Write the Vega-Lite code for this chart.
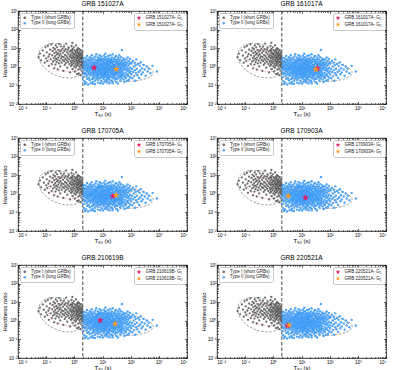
{
"$schema": "https://vega.github.io/schema/vega-lite/v6.json",
"padding": {"left": 1, "top": 0, "right": 0, "bottom": 0},
"background": "white",
"columns": 2,
"spacing": {"row": 10, "column": 12},
"config": {
 "font": "Liberation Sans",
 "view": {"stroke": "#000", "strokeWidth": 0.8},
 "axis": {"grid": false, "domain": false, "labelFontSize": 4.5, "labelColor": "#000", "tickColor": "#000", "tickWidth": 0.6, "labelPadding": 1, "titleFontSize": 6, "titleFontWeight": "normal", "titleColor": "#000", "titlePadding": 0.5, "labelFont": "Liberation Sans", "titleFont": "Liberation Sans"},
 "title": {"fontSize": 6.5, "fontWeight": "normal", "offset": 1, "color": "#000", "font": "Liberation Sans"},
 "legend": {"labelFontSize": 4.5, "labelFont": "Liberation Sans", "labelColor": "#222", "rowPadding": 0.5, "padding": 2.5, "strokeColor": "#c8c8c8", "cornerRadius": 1.5, "fillColor": "white", "offset": 1.5, "labelOffset": 4}
},
"datasets": {
"short": [
{"t":-1.27,"h":0.52},{"t":-1.22,"h":0.71},{"t":-1.18,"h":0.35},{"t":-1.12,"h":0.88},{"t":-1.08,"h":0.60},{"t":-1.05,"h":0.22},{"t":-1.02,"h":1.05},{"t":-1.00,"h":0.45},
{"t":-0.98,"h":0.78},{"t":-0.96,"h":0.31},{"t":-0.94,"h":1.12},{"t":-0.92,"h":0.55},{"t":-0.90,"h":0.05},{"t":-0.88,"h":0.68},{"t":-0.86,"h":0.92},{"t":-0.84,"h":0.40},{"t":-0.82,"h":1.20},{"t":-0.80,"h":0.15},{"t":-0.79,"h":0.62},{"t":-0.77,"h":0.85},{"t":-0.76,"h":0.28},{"t":-0.74,"h":1.02},{"t":-0.73,"h":0.48},{"t":-0.72,"h":-0.08},{"t":-0.71,"h":0.73},{"t":-0.70,"h":0.35},
{"t":-0.69,"h":0.95},{"t":-0.68,"h":0.58},{"t":-0.67,"h":0.12},{"t":-0.66,"h":1.15},{"t":-0.65,"h":0.44},{"t":-0.64,"h":0.80},{"t":-0.63,"h":0.25},{"t":-0.62,"h":0.66},{"t":-0.61,"h":1.05},{"t":-0.60,"h":0.38},{"t":-0.59,"h":-0.15},{"t":-0.58,"h":0.72},{"t":-0.57,"h":0.50},{"t":-0.56,"h":0.90},{"t":-0.55,"h":0.18},{"t":-0.54,"h":1.22},{"t":-0.53,"h":0.60},{"t":-0.52,"h":0.33},{"t":-0.51,"h":0.82},{"t":-0.50,"h":0.02},{"t":-0.49,"h":0.68},{"t":-0.48,"h":1.10},{"t":-0.47,"h":0.45},{"t":-0.46,"h":0.88},{"t":-0.45,"h":0.22},{"t":-0.44,"h":0.56},{"t":-0.42,"h":0.98},{"t":-0.41,"h":0.36},
{"t":-0.40,"h":0.75},{"t":-0.39,"h":-0.22},{"t":-0.38,"h":0.52},{"t":-0.37,"h":1.08},{"t":-0.36,"h":0.30},{"t":-0.35,"h":0.85},{"t":-0.34,"h":0.10},{"t":-0.33,"h":0.64},{"t":-0.32,"h":0.42},{"t":-0.31,"h":0.95},{"t":-0.30,"h":0.20},{"t":-0.29,"h":1.25},{"t":-0.28,"h":0.58},{"t":-0.27,"h":0.35},{"t":-0.26,"h":0.78},{"t":-0.25,"h":-0.05},{"t":-0.24,"h":0.48},{"t":-0.23,"h":0.92},{"t":-0.22,"h":0.26},{"t":-0.21,"h":0.68},{"t":-0.20,"h":1.02},{"t":-0.19,"h":0.40},{"t":-0.18,"h":0.15},{"t":-0.17,"h":0.82},{"t":-0.16,"h":0.55},{"t":-0.15,"h":-0.30},{"t":-0.14,"h":0.62},{"t":-0.13,"h":0.32},{"t":-0.12,"h":0.88},{"t":-0.12,"h":0.05},{"t":-0.11,"h":0.50},{"t":-0.10,"h":1.12},{"t":-0.10,"h":0.72},{"t":-0.11,"h":0.22},
{"t":-0.09,"h":0.44},{"t":-0.08,"h":0.85},{"t":-0.08,"h":0.12},{"t":-0.07,"h":0.60},{"t":-0.06,"h":0.30},{"t":-0.06,"h":0.95},{"t":-0.05,"h":-0.12},{"t":-0.04,"h":0.52},{"t":-0.04,"h":0.75},{"t":-0.03,"h":0.20},{"t":-0.02,"h":1.05},{"t":-0.02,"h":0.38},{"t":-0.01,"h":0.65},{"t":0.00,"h":0.02},{"t":0.00,"h":0.48},{"t":0.01,"h":0.88},{"t":0.02,"h":0.28},{"t":0.02,"h":0.70},{"t":0.03,"h":-0.25},{"t":0.04,"h":0.55},{"t":0.04,"h":0.15},{"t":0.05,"h":0.80},{"t":0.06,"h":0.40},{"t":0.06,"h":1.15},{"t":0.07,"h":0.62},{"t":0.08,"h":0.05},{"t":0.08,"h":0.32},{"t":0.09,"h":0.92},{"t":0.09,"h":0.50},{"t":0.10,"h":-0.40},{"t":0.10,"h":0.72},{"t":0.10,"h":0.22},{"t":-0.07,"h":1.28},{"t":0.05,"h":-0.05},
{"t":0.11,"h":0.45},{"t":0.11,"h":0.85},{"t":0.12,"h":0.10},{"t":0.12,"h":0.60},{"t":0.13,"h":0.30},{"t":0.13,"h":1.00},{"t":0.14,"h":-0.15},{"t":0.14,"h":0.52},{"t":0.15,"h":0.75},{"t":0.15,"h":0.18},{"t":0.16,"h":0.40},{"t":0.16,"h":-0.35},{"t":0.17,"h":0.65},{"t":0.17,"h":0.95},{"t":0.18,"h":0.02},{"t":0.18,"h":0.35},{"t":0.19,"h":0.58},{"t":0.19,"h":0.82},{"t":0.20,"h":-0.10},{"t":0.20,"h":0.25},{"t":0.21,"h":0.48},{"t":0.21,"h":0.70},{"t":0.22,"h":-0.45},{"t":0.22,"h":0.12},{"t":0.23,"h":0.42},{"t":0.23,"h":0.90},{"t":0.24,"h":0.28},{"t":0.24,"h":0.62},{"t":0.25,"h":-0.20},{"t":0.25,"h":0.05},{"t":0.26,"h":0.52},{"t":0.26,"h":0.78},{"t":0.27,"h":0.15},{"t":0.27,"h":0.38},{"t":0.28,"h":-0.05},{"t":0.28,"h":0.68},{"t":0.29,"h":0.22},{"t":0.29,"h":0.45},{"t":0.30,"h":-0.30},{"t":0.30,"h":0.10}
],
"long": [
{"t":0.31,"h":-0.12},{"t":0.31,"h":0.35},{"t":0.32,"h":-0.55},{"t":0.33,"h":0.10},{"t":0.33,"h":-0.30},{"t":0.34,"h":0.48},{"t":0.35,"h":-0.05},{"t":0.35,"h":-0.78},{"t":0.36,"h":0.22},{"t":0.37,"h":-0.40},{"t":0.37,"h":0.02},{"t":0.38,"h":-0.92},{"t":0.39,"h":0.30},{"t":0.39,"h":-0.18},
{"t":0.40,"h":0.12},{"t":0.41,"h":-0.35},{"t":0.41,"h":0.45},{"t":0.42,"h":-0.84},{"t":0.42,"h":-0.08},{"t":0.43,"h":0.25},{"t":0.44,"h":-0.50},{"t":0.44,"h":0.05},{"t":0.45,"h":-0.22},{"t":0.45,"h":0.58},{"t":0.46,"h":-0.65},{"t":0.47,"h":0.15},{"t":0.47,"h":-0.12},{"t":0.48,"h":0.38},{"t":0.48,"h":-0.42},{"t":0.49,"h":-0.02},{"t":0.49,"h":-0.95},{"t":0.50,"h":0.28},
{"t":0.50,"h":-0.28},{"t":0.51,"h":0.08},{"t":0.51,"h":-0.60},{"t":0.52,"h":0.40},{"t":0.52,"h":-0.15},{"t":0.53,"h":-0.38},{"t":0.54,"h":0.20},{"t":0.54,"h":-0.05},{"t":0.55,"h":-0.72},{"t":0.55,"h":0.52},{"t":0.56,"h":-0.20},{"t":0.56,"h":0.02},{"t":0.57,"h":-0.48},{"t":0.57,"h":0.30},{"t":0.58,"h":-0.10},{"t":0.58,"h":-0.88},{"t":0.59,"h":0.12},{"t":0.59,"h":-0.32},{"t":0.60,"h":0.45},{"t":0.60,"h":-0.02},
{"t":0.61,"h":-0.42},{"t":0.61,"h":0.18},{"t":0.62,"h":-0.12},{"t":0.62,"h":0.62},{"t":0.63,"h":-0.65},{"t":0.63,"h":0.05},{"t":0.64,"h":-0.25},{"t":0.64,"h":0.35},{"t":0.65,"h":-0.80},{"t":0.65,"h":-0.05},{"t":0.66,"h":0.25},{"t":0.66,"h":-0.35},{"t":0.67,"h":0.10},{"t":0.67,"h":-0.55},{"t":0.68,"h":0.48},{"t":0.68,"h":-0.18},{"t":0.69,"h":-0.02},{"t":0.69,"h":-0.45},{"t":0.70,"h":0.20},{"t":0.70,"h":-0.28},{"t":0.62,"h":0.00},{"t":0.66,"h":-0.90},
{"t":0.71,"h":0.08},{"t":0.71,"h":-0.60},{"t":0.72,"h":0.40},{"t":0.72,"h":-0.15},{"t":0.73,"h":-0.35},{"t":0.73,"h":0.22},{"t":0.74,"h":-0.05},{"t":0.74,"h":-0.75},{"t":0.75,"h":0.55},{"t":0.75,"h":-0.22},{"t":0.76,"h":0.12},{"t":0.76,"h":-0.48},{"t":0.77,"h":-0.10},{"t":0.77,"h":0.30},{"t":0.78,"h":-0.30},{"t":0.78,"h":0.68},{"t":0.79,"h":-0.02},{"t":0.79,"h":-0.62},{"t":0.80,"h":0.18},{"t":0.80,"h":-0.40},{"t":0.73,"h":-0.92},{"t":0.76,"h":0.00},{"t":0.78,"h":0.05},{"t":0.74,"h":-0.18},
{"t":0.81,"h":-0.25},{"t":0.81,"h":0.35},{"t":0.82,"h":-0.08},{"t":0.82,"h":-0.52},{"t":0.83,"h":0.15},{"t":0.83,"h":-0.35},{"t":0.84,"h":0.50},{"t":0.84,"h":-0.15},{"t":0.85,"h":-0.70},{"t":0.85,"h":0.05},{"t":0.86,"h":0.28},{"t":0.86,"h":-0.42},{"t":0.87,"h":-0.02},{"t":0.87,"h":0.42},{"t":0.88,"h":-0.20},{"t":0.88,"h":-0.58},{"t":0.89,"h":0.10},{"t":0.89,"h":-0.30},{"t":0.90,"h":0.62},{"t":0.90,"h":-0.10},{"t":0.82,"h":0.22},{"t":0.84,"h":-0.85},{"t":0.86,"h":-0.22},{"t":0.88,"h":0.32},{"t":0.85,"h":-0.45},{"t":0.87,"h":-0.12},
{"t":0.91,"h":-0.38},{"t":0.91,"h":0.18},{"t":0.92,"h":-0.05},{"t":0.92,"h":0.45},{"t":0.93,"h":-0.62},{"t":0.93,"h":-0.18},{"t":0.94,"h":0.30},{"t":0.94,"h":-0.28},{"t":0.95,"h":0.08},{"t":0.95,"h":-0.48},{"t":0.96,"h":0.55},{"t":0.96,"h":-0.12},{"t":0.97,"h":-0.78},{"t":0.97,"h":0.15},{"t":0.98,"h":-0.35},{"t":0.98,"h":0.38},{"t":0.99,"h":-0.02},{"t":0.99,"h":-0.55},{"t":1.00,"h":0.22},{"t":1.00,"h":-0.22},{"t":0.92,"h":-0.88},{"t":0.94,"h":0.02},{"t":0.96,"h":-0.40},{"t":0.98,"h":0.10},{"t":0.93,"h":0.40},{"t":0.97,"h":-0.25},
{"t":1.01,"h":-0.10},{"t":1.01,"h":0.42},{"t":1.02,"h":-0.45},{"t":1.02,"h":0.05},{"t":1.03,"h":-0.25},{"t":1.03,"h":0.28},{"t":1.04,"h":-0.65},{"t":1.04,"h":-0.02},{"t":1.05,"h":0.60},{"t":1.05,"h":-0.32},{"t":1.06,"h":0.12},{"t":1.06,"h":-0.15},{"t":1.07,"h":-0.52},{"t":1.07,"h":0.35},{"t":1.08,"h":-0.05},{"t":1.08,"h":-0.80},{"t":1.09,"h":0.20},{"t":1.09,"h":-0.38},{"t":1.10,"h":0.70},{"t":1.10,"h":-0.20},{"t":1.02,"h":-0.90},{"t":1.04,"h":0.18},{"t":1.06,"h":-0.58},{"t":1.08,"h":0.48},{"t":1.03,"h":-0.12},{"t":1.05,"h":-0.40},{"t":1.07,"h":0.02},{"t":1.09,"h":-0.28},
{"t":1.11,"h":0.15},{"t":1.11,"h":-0.48},{"t":1.12,"h":-0.08},{"t":1.12,"h":0.52},{"t":1.13,"h":-0.30},{"t":1.13,"h":-0.70},{"t":1.14,"h":0.25},{"t":1.14,"h":-0.15},{"t":1.15,"h":0.02},{"t":1.15,"h":-0.55},{"t":1.16,"h":0.40},{"t":1.16,"h":-0.22},{"t":1.17,"h":-0.02},{"t":1.17,"h":-0.85},{"t":1.18,"h":0.30},{"t":1.18,"h":-0.35},{"t":1.19,"h":0.10},{"t":1.19,"h":-0.62},{"t":1.20,"h":-0.12},{"t":1.20,"h":0.58},{"t":1.12,"h":-0.40},{"t":1.14,"h":0.08},{"t":1.16,"h":-0.75},{"t":1.18,"h":-0.05},{"t":1.13,"h":0.35},{"t":1.15,"h":-0.25},{"t":1.17,"h":0.18},{"t":1.19,"h":-0.45},
{"t":1.21,"h":-0.30},{"t":1.21,"h":0.22},{"t":1.22,"h":-0.05},{"t":1.22,"h":-0.65},{"t":1.23,"h":0.45},{"t":1.23,"h":-0.18},{"t":1.24,"h":-0.42},{"t":1.24,"h":0.10},{"t":1.25,"h":-0.88},{"t":1.25,"h":0.32},{"t":1.26,"h":-0.10},{"t":1.26,"h":-0.52},{"t":1.27,"h":0.62},{"t":1.27,"h":0.02},{"t":1.28,"h":-0.28},{"t":1.28,"h":0.18},{"t":1.29,"h":-0.72},{"t":1.29,"h":-0.02},{"t":1.30,"h":0.40},{"t":1.30,"h":-0.35},{"t":1.22,"h":0.28},{"t":1.24,"h":-0.22},{"t":1.26,"h":0.05},{"t":1.28,"h":-0.48},{"t":1.23,"h":-0.58},{"t":1.25,"h":0.12},{"t":1.27,"h":-0.15},{"t":1.29,"h":0.25},
{"t":1.31,"h":-0.15},{"t":1.31,"h":0.35},{"t":1.32,"h":-0.55},{"t":1.32,"h":0.05},{"t":1.33,"h":-0.25},{"t":1.33,"h":0.50},{"t":1.34,"h":-0.78},{"t":1.34,"h":-0.05},{"t":1.35,"h":0.20},{"t":1.35,"h":-0.40},{"t":1.36,"h":0.68},{"t":1.36,"h":-0.12},{"t":1.37,"h":-0.62},{"t":1.37,"h":0.12},{"t":1.38,"h":-0.30},{"t":1.38,"h":0.30},{"t":1.39,"h":-0.02},{"t":1.39,"h":-0.48},{"t":1.40,"h":0.42},{"t":1.40,"h":-0.20},{"t":1.32,"h":-0.35},{"t":1.34,"h":0.25},{"t":1.36,"h":-0.88},{"t":1.38,"h":-0.08},{"t":1.33,"h":0.00},{"t":1.37,"h":-0.18},
{"t":1.41,"h":0.10},{"t":1.41,"h":-0.52},{"t":1.42,"h":-0.18},{"t":1.42,"h":0.45},{"t":1.43,"h":-0.35},{"t":1.43,"h":0.02},{"t":1.44,"h":-0.70},{"t":1.44,"h":0.28},{"t":1.45,"h":-0.08},{"t":1.45,"h":-0.45},{"t":1.46,"h":0.55},{"t":1.46,"h":-0.22},{"t":1.47,"h":0.15},{"t":1.47,"h":-0.60},{"t":1.48,"h":-0.02},{"t":1.48,"h":0.35},{"t":1.49,"h":-0.30},{"t":1.49,"h":-0.82},{"t":1.50,"h":0.20},{"t":1.50,"h":-0.12},{"t":1.42,"h":-0.40},{"t":1.44,"h":0.08},{"t":1.46,"h":-0.28},{"t":1.48,"h":0.58},
{"t":1.51,"h":-0.38},{"t":1.51,"h":0.25},{"t":1.52,"h":-0.05},{"t":1.52,"h":-0.65},{"t":1.53,"h":0.40},{"t":1.53,"h":-0.20},{"t":1.54,"h":0.08},{"t":1.54,"h":-0.48},{"t":1.55,"h":-0.90},{"t":1.55,"h":0.18},{"t":1.56,"h":-0.12},{"t":1.56,"h":0.50},{"t":1.57,"h":-0.32},{"t":1.57,"h":-0.02},{"t":1.58,"h":0.30},{"t":1.58,"h":-0.58},{"t":1.59,"h":-0.22},{"t":1.59,"h":0.12},{"t":1.60,"h":-0.42},{"t":1.60,"h":0.62},{"t":1.53,"h":-0.30},{"t":1.57,"h":0.05},
{"t":1.61,"h":0.15},{"t":1.61,"h":-0.28},{"t":1.62,"h":-0.55},{"t":1.62,"h":0.40},{"t":1.63,"h":-0.08},{"t":1.63,"h":-0.72},{"t":1.64,"h":0.22},{"t":1.64,"h":-0.35},{"t":1.65,"h":0.02},{"t":1.65,"h":-0.15},{"t":1.66,"h":0.52},{"t":1.66,"h":-0.48},{"t":1.67,"h":-0.25},{"t":1.67,"h":0.10},{"t":1.68,"h":-0.62},{"t":1.68,"h":0.30},{"t":1.69,"h":0.90},{"t":1.69,"h":-0.05},{"t":1.70,"h":-0.40},{"t":1.70,"h":0.18},
{"t":1.71,"h":-0.20},{"t":1.71,"h":0.32},{"t":1.72,"h":-0.50},{"t":1.73,"h":0.08},{"t":1.73,"h":-0.30},{"t":1.74,"h":0.45},{"t":1.75,"h":-0.68},{"t":1.75,"h":-0.10},{"t":1.76,"h":0.20},{"t":1.77,"h":-0.42},{"t":1.77,"h":0.02},{"t":1.78,"h":-0.82},{"t":1.78,"h":0.38},{"t":1.79,"h":-0.15},{"t":1.80,"h":-0.55},{"t":1.80,"h":0.12},
{"t":1.81,"h":0.25},{"t":1.82,"h":-0.32},{"t":1.82,"h":-0.02},{"t":1.83,"h":-0.60},{"t":1.84,"h":0.40},{"t":1.85,"h":-0.18},{"t":1.85,"h":0.10},{"t":1.86,"h":-0.45},{"t":1.87,"h":-0.75},{"t":1.87,"h":0.22},{"t":1.88,"h":-0.08},{"t":1.89,"h":-0.38},{"t":1.89,"h":0.50},{"t":1.90,"h":-0.22},
{"t":1.91,"h":0.05},{"t":1.92,"h":-0.48},{"t":1.93,"h":0.30},{"t":1.94,"h":-0.15},{"t":1.94,"h":-0.70},{"t":1.95,"h":0.15},{"t":1.96,"h":-0.32},{"t":1.97,"h":0.42},{"t":1.98,"h":-0.05},{"t":1.98,"h":-0.58},{"t":1.99,"h":0.20},{"t":2.00,"h":-0.25},
{"t":2.02,"h":-0.40},{"t":2.03,"h":0.18},{"t":2.05,"h":-0.12},{"t":2.06,"h":-0.62},{"t":2.08,"h":0.32},{"t":2.09,"h":-0.28},{"t":2.11,"h":0.02},{"t":2.12,"h":-0.50},{"t":2.14,"h":0.22},{"t":2.15,"h":-0.18},{"t":2.16,"h":-0.75},{"t":2.18,"h":0.10},{"t":2.19,"h":-0.35},{"t":2.20,"h":0.40},
{"t":2.22,"h":-0.10},{"t":2.24,"h":-0.45},{"t":2.26,"h":0.15},{"t":2.28,"h":-0.28},{"t":2.30,"h":-0.60},{"t":2.32,"h":0.05},{"t":2.34,"h":-0.20},{"t":2.36,"h":0.25},{"t":2.38,"h":-0.40},{"t":2.40,"h":-0.08},
{"t":2.43,"h":-0.30},{"t":2.46,"h":0.10},{"t":2.50,"h":-0.15},{"t":2.53,"h":-0.48},{"t":2.57,"h":0.02},{"t":2.60,"h":-0.25},
{"t":2.64,"h":-0.10},{"t":2.70,"h":-0.35},{"t":2.78,"h":0.05},{"t":2.93,"h":-0.25}
],
"ell": [
{"e":"so","k":"outer","i":0,"t":0.37,"h":0.05},{"e":"so","k":"outer","i":1,"t":0.26,"h":0.53},{"e":"so","k":"outer","i":2,"t":-0.04,"h":0.96},{"e":"so","k":"outer","i":3,"t":-0.45,"h":1.22},{"e":"so","k":"outer","i":4,"t":-0.86,"h":1.24},{"e":"so","k":"outer","i":5,"t":-1.16,"h":1.02},{"e":"so","k":"outer","i":6,"t":-1.27,"h":0.61},{"e":"so","k":"outer","i":7,"t":-1.16,"h":0.13},{"e":"so","k":"outer","i":8,"t":-0.86,"h":-0.30},{"e":"so","k":"outer","i":9,"t":-0.45,"h":-0.56},{"e":"so","k":"outer","i":10,"t":-0.04,"h":-0.58},{"e":"so","k":"outer","i":11,"t":0.26,"h":-0.36},
{"e":"si","k":"inner","i":0,"t":0.27,"h":0.15},{"e":"si","k":"inner","i":1,"t":0.19,"h":0.46},{"e":"si","k":"inner","i":2,"t":-0.03,"h":0.735},{"e":"si","k":"inner","i":3,"t":-0.33,"h":0.90},{"e":"si","k":"inner","i":4,"t":-0.63,"h":0.915},{"e":"si","k":"inner","i":5,"t":-0.85,"h":0.77},{"e":"si","k":"inner","i":6,"t":-0.93,"h":0.51},{"e":"si","k":"inner","i":7,"t":-0.85,"h":0.20},{"e":"si","k":"inner","i":8,"t":-0.63,"h":-0.075},{"e":"si","k":"inner","i":9,"t":-0.33,"h":-0.24},{"e":"si","k":"inner","i":10,"t":-0.03,"h":-0.255},{"e":"si","k":"inner","i":11,"t":0.19,"h":-0.11},
{"e":"lo","k":"outer","i":0,"t":2.80,"h":-0.31},{"e":"lo","k":"outer","i":1,"t":2.61,"h":0.00},{"e":"lo","k":"outer","i":2,"t":2.08,"h":0.27},{"e":"lo","k":"outer","i":3,"t":1.35,"h":0.41},{"e":"lo","k":"outer","i":4,"t":0.63,"h":0.39},{"e":"lo","k":"outer","i":5,"t":0.09,"h":0.21},{"e":"lo","k":"outer","i":6,"t":-0.10,"h":-0.07},{"e":"lo","k":"outer","i":7,"t":0.09,"h":-0.38},{"e":"lo","k":"outer","i":8,"t":0.63,"h":-0.65},{"e":"lo","k":"outer","i":9,"t":1.35,"h":-0.79},{"e":"lo","k":"outer","i":10,"t":2.08,"h":-0.77},{"e":"lo","k":"outer","i":11,"t":2.61,"h":-0.60},
{"e":"li","k":"inner","i":0,"t":2.30,"h":-0.25},{"e":"li","k":"inner","i":1,"t":2.17,"h":-0.04},{"e":"li","k":"inner","i":2,"t":1.80,"h":0.13},{"e":"li","k":"inner","i":3,"t":1.30,"h":0.22},{"e":"li","k":"inner","i":4,"t":0.80,"h":0.21},{"e":"li","k":"inner","i":5,"t":0.43,"h":0.10},{"e":"li","k":"inner","i":6,"t":0.30,"h":-0.09},{"e":"li","k":"inner","i":7,"t":0.43,"h":-0.30},{"e":"li","k":"inner","i":8,"t":0.80,"h":-0.47},{"e":"li","k":"inner","i":9,"t":1.30,"h":-0.56},{"e":"li","k":"inner","i":10,"t":1.80,"h":-0.55},{"e":"li","k":"inner","i":11,"t":2.17,"h":-0.44}
]
},
"resolve": {"scale": {"fill": "independent"}, "legend": {"color": "independent", "fill": "independent"}},
"concat": [
{"title": "GRB 151027A", "width": 169, "height": 93, "resolve": {"axis": {"x": "independent", "y": "independent"}},
 "layer": [
  {"data": {"name": "ell"}, "mark": {"type": "line", "interpolate": "cardinal-closed", "strokeWidth": 0.7},
   "encoding": {
    "x": {"field": "t", "type": "quantitative", "scale": {"domain": [-2, 4]}, "axis": {"orient": "top", "offset": -2.5, "tickSize": 2.5, "values": [-2,-1,0,1,2,3,4], "labels": false, "title": null}},
    "y": {"field": "h", "type": "quantitative", "scale": {"domain": [-2, 3]}, "axis": {"orient": "right", "offset": -2.5, "tickSize": 2.5, "values": [-2,-1,0,1,2,3], "labels": false, "title": null}},
    "detail": {"field": "e"}, "order": {"field": "i", "type": "quantitative"},
    "stroke": {"field": "k", "type": "nominal", "scale": {"domain": ["outer","inner"], "range": ["#7a7a7a", "#e88080"]}, "legend": null},
    "strokeDash": {"field": "k", "type": "nominal", "scale": {"domain": ["outer","inner"], "range": [[2.5,1.5],[1,1.2]]}, "legend": null}}},
  {"data": {"values": [{}]}, "mark": {"type": "rule", "strokeDash": [3.5,2], "color": "#333", "strokeWidth": 0.9}, "encoding": {"x": {"datum": 0.301, "type": "quantitative", "axis": {"orient": "top", "offset": -1.3, "tickSize": 1.3, "values": [-1.699,-1.523,-1.398,-1.301,-1.222,-1.155,-1.097,-1.046,-0.699,-0.523,-0.398,-0.301,-0.222,-0.155,-0.097,-0.046,0.301,0.477,0.602,0.699,0.778,0.845,0.903,0.954,1.301,1.477,1.602,1.699,1.778,1.845,1.903,1.954,2.301,2.477,2.602,2.699,2.778,2.845,2.903,2.954,3.301,3.477,3.602,3.699,3.778,3.845,3.903,3.954], "labels": false, "title": null}}}},
  {"data": {"name": "short"}, "mark": {"type": "circle", "size": 5, "opacity": 0.85},
   "encoding": {
    "x": {"field": "t", "type": "quantitative", "scale": {"domain": [-2, 4]}, "axis": {"orient": "bottom", "offset": -2.5, "tickSize": 2.5, "values": [-2,-1,0,1,2,3,4], "labelExpr": "datum.value == -2 ? '10⁻²' : datum.value == -1 ? '10⁻¹' : datum.value == 0 ? '10⁰' : datum.value == 1 ? '10¹' : datum.value == 2 ? '10²' : datum.value == 3 ? '10³' : '10⁴'", "title": "T₉₀ (s)"}},
    "y": {"field": "h", "type": "quantitative", "scale": {"domain": [-2, 3]}, "axis": {"orient": "left", "offset": -2.5, "tickSize": 2.5, "values": [-2,-1,0,1,2,3], "labelExpr": "datum.value == -2 ? '10⁻²' : datum.value == -1 ? '10⁻¹' : datum.value == 0 ? '10⁰' : datum.value == 1 ? '10¹' : datum.value == 2 ? '10²' : '10³'", "title": "Hardness ratio"}},
    "color": {"datum": "Type I (short GRBs)", "type": "nominal", "scale": {"domain": ["Type I (short GRBs)", "Type II (long GRBs)"], "range": ["#505050", "#3f9cf5"]}, "legend": {"orient": "top-left", "title": null, "symbolType": "circle", "symbolSize": 7, "symbolStrokeWidth": 0}}}},
  {"data": {"name": "long"}, "mark": {"type": "circle", "size": 6, "opacity": 0.9},
   "encoding": {
    "x": {"field": "t", "type": "quantitative", "scale": {"domain": [-2, 4]}, "axis": {"orient": "bottom", "offset": -1.3, "tickSize": 1.3, "values": [-1.699,-1.523,-1.398,-1.301,-1.222,-1.155,-1.097,-1.046,-0.699,-0.523,-0.398,-0.301,-0.222,-0.155,-0.097,-0.046,0.301,0.477,0.602,0.699,0.778,0.845,0.903,0.954,1.301,1.477,1.602,1.699,1.778,1.845,1.903,1.954,2.301,2.477,2.602,2.699,2.778,2.845,2.903,2.954,3.301,3.477,3.602,3.699,3.778,3.845,3.903,3.954], "labels": false, "title": null}},
    "y": {"field": "h", "type": "quantitative", "scale": {"domain": [-2, 3]}, "axis": {"orient": "left", "offset": -1.3, "tickSize": 1.3, "values": [-1.699,-1.523,-1.398,-1.301,-1.222,-1.155,-1.097,-1.046,-0.699,-0.523,-0.398,-0.301,-0.222,-0.155,-0.097,-0.046,0.301,0.477,0.602,0.699,0.778,0.845,0.903,0.954,1.301,1.477,1.602,1.699,1.778,1.845,1.903,1.954,2.301,2.477,2.602,2.699,2.778,2.845,2.903,2.954], "labels": false, "title": null}},
    "color": {"datum": "Type II (long GRBs)", "type": "nominal"}}},
  {"data": {"values": [{"g": "GRB 151027A- G₁", "t": 0.70, "h": -0.05}, {"g": "GRB 151027A- G₂", "t": 1.49, "h": -0.125}]}, "mark": {"type": "point", "shape": "M0,-1L0.225,-0.309L0.951,-0.309L0.363,0.118L0.588,0.809L0,0.382L-0.588,0.809L-0.363,0.118L-0.951,-0.309L-0.225,-0.309Z", "filled": true, "size": 55, "opacity": 1},
   "encoding": {
    "x": {"field": "t", "type": "quantitative", "scale": {"domain": [-2, 4]}, "axis": null},
    "y": {"field": "h", "type": "quantitative", "scale": {"domain": [-2, 3]}, "axis": {"orient": "right", "offset": -1.3, "tickSize": 1.3, "values": [-1.699,-1.523,-1.398,-1.301,-1.222,-1.155,-1.097,-1.046,-0.699,-0.523,-0.398,-0.301,-0.222,-0.155,-0.097,-0.046,0.301,0.477,0.602,0.699,0.778,0.845,0.903,0.954,1.301,1.477,1.602,1.699,1.778,1.845,1.903,1.954,2.301,2.477,2.602,2.699,2.778,2.845,2.903,2.954], "labels": false, "title": null}},
    "fill": {"field": "g", "type": "nominal", "scale": {"range": ["#e8175d", "#ff9a1f"]}, "legend": {"orient": "top-right", "title": null, "symbolType": "M0,-1L0.225,-0.309L0.951,-0.309L0.363,0.118L0.588,0.809L0,0.382L-0.588,0.809L-0.363,0.118L-0.951,-0.309L-0.225,-0.309Z", "symbolSize": 25, "symbolStrokeWidth": 0}}}}
 ]},
{"title": "GRB 161017A", "width": 169, "height": 93, "resolve": {"axis": {"x": "independent", "y": "independent"}},
 "layer": [
  {"data": {"name": "ell"}, "mark": {"type": "line", "interpolate": "cardinal-closed", "strokeWidth": 0.7},
   "encoding": {
    "x": {"field": "t", "type": "quantitative", "scale": {"domain": [-2, 4]}, "axis": {"orient": "top", "offset": -2.5, "tickSize": 2.5, "values": [-2,-1,0,1,2,3,4], "labels": false, "title": null}},
    "y": {"field": "h", "type": "quantitative", "scale": {"domain": [-2, 3]}, "axis": {"orient": "right", "offset": -2.5, "tickSize": 2.5, "values": [-2,-1,0,1,2,3], "labels": false, "title": null}},
    "detail": {"field": "e"}, "order": {"field": "i", "type": "quantitative"},
    "stroke": {"field": "k", "type": "nominal", "scale": {"domain": ["outer","inner"], "range": ["#7a7a7a", "#e88080"]}, "legend": null},
    "strokeDash": {"field": "k", "type": "nominal", "scale": {"domain": ["outer","inner"], "range": [[2.5,1.5],[1,1.2]]}, "legend": null}}},
  {"data": {"values": [{}]}, "mark": {"type": "rule", "strokeDash": [3.5,2], "color": "#333", "strokeWidth": 0.9}, "encoding": {"x": {"datum": 0.301, "type": "quantitative", "axis": {"orient": "top", "offset": -1.3, "tickSize": 1.3, "values": [-1.699,-1.523,-1.398,-1.301,-1.222,-1.155,-1.097,-1.046,-0.699,-0.523,-0.398,-0.301,-0.222,-0.155,-0.097,-0.046,0.301,0.477,0.602,0.699,0.778,0.845,0.903,0.954,1.301,1.477,1.602,1.699,1.778,1.845,1.903,1.954,2.301,2.477,2.602,2.699,2.778,2.845,2.903,2.954,3.301,3.477,3.602,3.699,3.778,3.845,3.903,3.954], "labels": false, "title": null}}}},
  {"data": {"name": "short"}, "mark": {"type": "circle", "size": 5, "opacity": 0.85},
   "encoding": {
    "x": {"field": "t", "type": "quantitative", "scale": {"domain": [-2, 4]}, "axis": {"orient": "bottom", "offset": -2.5, "tickSize": 2.5, "values": [-2,-1,0,1,2,3,4], "labelExpr": "datum.value == -2 ? '10⁻²' : datum.value == -1 ? '10⁻¹' : datum.value == 0 ? '10⁰' : datum.value == 1 ? '10¹' : datum.value == 2 ? '10²' : datum.value == 3 ? '10³' : '10⁴'", "title": "T₉₀ (s)"}},
    "y": {"field": "h", "type": "quantitative", "scale": {"domain": [-2, 3]}, "axis": {"orient": "left", "offset": -2.5, "tickSize": 2.5, "values": [-2,-1,0,1,2,3], "labelExpr": "datum.value == -2 ? '10⁻²' : datum.value == -1 ? '10⁻¹' : datum.value == 0 ? '10⁰' : datum.value == 1 ? '10¹' : datum.value == 2 ? '10²' : '10³'", "title": "Hardness ratio"}},
    "color": {"datum": "Type I (short GRBs)", "type": "nominal", "scale": {"domain": ["Type I (short GRBs)", "Type II (long GRBs)"], "range": ["#505050", "#3f9cf5"]}, "legend": {"orient": "top-left", "title": null, "symbolType": "circle", "symbolSize": 7, "symbolStrokeWidth": 0}}}},
  {"data": {"name": "long"}, "mark": {"type": "circle", "size": 6, "opacity": 0.9},
   "encoding": {
    "x": {"field": "t", "type": "quantitative", "scale": {"domain": [-2, 4]}, "axis": {"orient": "bottom", "offset": -1.3, "tickSize": 1.3, "values": [-1.699,-1.523,-1.398,-1.301,-1.222,-1.155,-1.097,-1.046,-0.699,-0.523,-0.398,-0.301,-0.222,-0.155,-0.097,-0.046,0.301,0.477,0.602,0.699,0.778,0.845,0.903,0.954,1.301,1.477,1.602,1.699,1.778,1.845,1.903,1.954,2.301,2.477,2.602,2.699,2.778,2.845,2.903,2.954,3.301,3.477,3.602,3.699,3.778,3.845,3.903,3.954], "labels": false, "title": null}},
    "y": {"field": "h", "type": "quantitative", "scale": {"domain": [-2, 3]}, "axis": {"orient": "left", "offset": -1.3, "tickSize": 1.3, "values": [-1.699,-1.523,-1.398,-1.301,-1.222,-1.155,-1.097,-1.046,-0.699,-0.523,-0.398,-0.301,-0.222,-0.155,-0.097,-0.046,0.301,0.477,0.602,0.699,0.778,0.845,0.903,0.954,1.301,1.477,1.602,1.699,1.778,1.845,1.903,1.954,2.301,2.477,2.602,2.699,2.778,2.845,2.903,2.954], "labels": false, "title": null}},
    "color": {"datum": "Type II (long GRBs)", "type": "nominal"}}},
  {"data": {"values": [{"g": "GRB 161017A- G₁", "t": 1.57, "h": -0.09}, {"g": "GRB 161017A- G₂", "t": 1.51, "h": -0.14}]}, "mark": {"type": "point", "shape": "M0,-1L0.225,-0.309L0.951,-0.309L0.363,0.118L0.588,0.809L0,0.382L-0.588,0.809L-0.363,0.118L-0.951,-0.309L-0.225,-0.309Z", "filled": true, "size": 55, "opacity": 1},
   "encoding": {
    "x": {"field": "t", "type": "quantitative", "scale": {"domain": [-2, 4]}, "axis": null},
    "y": {"field": "h", "type": "quantitative", "scale": {"domain": [-2, 3]}, "axis": {"orient": "right", "offset": -1.3, "tickSize": 1.3, "values": [-1.699,-1.523,-1.398,-1.301,-1.222,-1.155,-1.097,-1.046,-0.699,-0.523,-0.398,-0.301,-0.222,-0.155,-0.097,-0.046,0.301,0.477,0.602,0.699,0.778,0.845,0.903,0.954,1.301,1.477,1.602,1.699,1.778,1.845,1.903,1.954,2.301,2.477,2.602,2.699,2.778,2.845,2.903,2.954], "labels": false, "title": null}},
    "fill": {"field": "g", "type": "nominal", "scale": {"range": ["#e8175d", "#ff9a1f"]}, "legend": {"orient": "top-right", "title": null, "symbolType": "M0,-1L0.225,-0.309L0.951,-0.309L0.363,0.118L0.588,0.809L0,0.382L-0.588,0.809L-0.363,0.118L-0.951,-0.309L-0.225,-0.309Z", "symbolSize": 25, "symbolStrokeWidth": 0}}}}
 ]},
{"title": "GRB 170705A", "width": 169, "height": 93, "resolve": {"axis": {"x": "independent", "y": "independent"}},
 "layer": [
  {"data": {"name": "ell"}, "mark": {"type": "line", "interpolate": "cardinal-closed", "strokeWidth": 0.7},
   "encoding": {
    "x": {"field": "t", "type": "quantitative", "scale": {"domain": [-2, 4]}, "axis": {"orient": "top", "offset": -2.5, "tickSize": 2.5, "values": [-2,-1,0,1,2,3,4], "labels": false, "title": null}},
    "y": {"field": "h", "type": "quantitative", "scale": {"domain": [-2, 3]}, "axis": {"orient": "right", "offset": -2.5, "tickSize": 2.5, "values": [-2,-1,0,1,2,3], "labels": false, "title": null}},
    "detail": {"field": "e"}, "order": {"field": "i", "type": "quantitative"},
    "stroke": {"field": "k", "type": "nominal", "scale": {"domain": ["outer","inner"], "range": ["#7a7a7a", "#e88080"]}, "legend": null},
    "strokeDash": {"field": "k", "type": "nominal", "scale": {"domain": ["outer","inner"], "range": [[2.5,1.5],[1,1.2]]}, "legend": null}}},
  {"data": {"values": [{}]}, "mark": {"type": "rule", "strokeDash": [3.5,2], "color": "#333", "strokeWidth": 0.9}, "encoding": {"x": {"datum": 0.301, "type": "quantitative", "axis": {"orient": "top", "offset": -1.3, "tickSize": 1.3, "values": [-1.699,-1.523,-1.398,-1.301,-1.222,-1.155,-1.097,-1.046,-0.699,-0.523,-0.398,-0.301,-0.222,-0.155,-0.097,-0.046,0.301,0.477,0.602,0.699,0.778,0.845,0.903,0.954,1.301,1.477,1.602,1.699,1.778,1.845,1.903,1.954,2.301,2.477,2.602,2.699,2.778,2.845,2.903,2.954,3.301,3.477,3.602,3.699,3.778,3.845,3.903,3.954], "labels": false, "title": null}}}},
  {"data": {"name": "short"}, "mark": {"type": "circle", "size": 5, "opacity": 0.85},
   "encoding": {
    "x": {"field": "t", "type": "quantitative", "scale": {"domain": [-2, 4]}, "axis": {"orient": "bottom", "offset": -2.5, "tickSize": 2.5, "values": [-2,-1,0,1,2,3,4], "labelExpr": "datum.value == -2 ? '10⁻²' : datum.value == -1 ? '10⁻¹' : datum.value == 0 ? '10⁰' : datum.value == 1 ? '10¹' : datum.value == 2 ? '10²' : datum.value == 3 ? '10³' : '10⁴'", "title": "T₉₀ (s)"}},
    "y": {"field": "h", "type": "quantitative", "scale": {"domain": [-2, 3]}, "axis": {"orient": "left", "offset": -2.5, "tickSize": 2.5, "values": [-2,-1,0,1,2,3], "labelExpr": "datum.value == -2 ? '10⁻²' : datum.value == -1 ? '10⁻¹' : datum.value == 0 ? '10⁰' : datum.value == 1 ? '10¹' : datum.value == 2 ? '10²' : '10³'", "title": "Hardness ratio"}},
    "color": {"datum": "Type I (short GRBs)", "type": "nominal", "scale": {"domain": ["Type I (short GRBs)", "Type II (long GRBs)"], "range": ["#505050", "#3f9cf5"]}, "legend": {"orient": "top-left", "title": null, "symbolType": "circle", "symbolSize": 7, "symbolStrokeWidth": 0}}}},
  {"data": {"name": "long"}, "mark": {"type": "circle", "size": 6, "opacity": 0.9},
   "encoding": {
    "x": {"field": "t", "type": "quantitative", "scale": {"domain": [-2, 4]}, "axis": {"orient": "bottom", "offset": -1.3, "tickSize": 1.3, "values": [-1.699,-1.523,-1.398,-1.301,-1.222,-1.155,-1.097,-1.046,-0.699,-0.523,-0.398,-0.301,-0.222,-0.155,-0.097,-0.046,0.301,0.477,0.602,0.699,0.778,0.845,0.903,0.954,1.301,1.477,1.602,1.699,1.778,1.845,1.903,1.954,2.301,2.477,2.602,2.699,2.778,2.845,2.903,2.954,3.301,3.477,3.602,3.699,3.778,3.845,3.903,3.954], "labels": false, "title": null}},
    "y": {"field": "h", "type": "quantitative", "scale": {"domain": [-2, 3]}, "axis": {"orient": "left", "offset": -1.3, "tickSize": 1.3, "values": [-1.699,-1.523,-1.398,-1.301,-1.222,-1.155,-1.097,-1.046,-0.699,-0.523,-0.398,-0.301,-0.222,-0.155,-0.097,-0.046,0.301,0.477,0.602,0.699,0.778,0.845,0.903,0.954,1.301,1.477,1.602,1.699,1.778,1.845,1.903,1.954,2.301,2.477,2.602,2.699,2.778,2.845,2.903,2.954], "labels": false, "title": null}},
    "color": {"datum": "Type II (long GRBs)", "type": "nominal"}}},
  {"data": {"values": [{"g": "GRB 170705A- G₁", "t": 1.37, "h": -0.125}, {"g": "GRB 170705A- G₂", "t": 1.48, "h": -0.07}]}, "mark": {"type": "point", "shape": "M0,-1L0.225,-0.309L0.951,-0.309L0.363,0.118L0.588,0.809L0,0.382L-0.588,0.809L-0.363,0.118L-0.951,-0.309L-0.225,-0.309Z", "filled": true, "size": 55, "opacity": 1},
   "encoding": {
    "x": {"field": "t", "type": "quantitative", "scale": {"domain": [-2, 4]}, "axis": null},
    "y": {"field": "h", "type": "quantitative", "scale": {"domain": [-2, 3]}, "axis": {"orient": "right", "offset": -1.3, "tickSize": 1.3, "values": [-1.699,-1.523,-1.398,-1.301,-1.222,-1.155,-1.097,-1.046,-0.699,-0.523,-0.398,-0.301,-0.222,-0.155,-0.097,-0.046,0.301,0.477,0.602,0.699,0.778,0.845,0.903,0.954,1.301,1.477,1.602,1.699,1.778,1.845,1.903,1.954,2.301,2.477,2.602,2.699,2.778,2.845,2.903,2.954], "labels": false, "title": null}},
    "fill": {"field": "g", "type": "nominal", "scale": {"range": ["#e8175d", "#ff9a1f"]}, "legend": {"orient": "top-right", "title": null, "symbolType": "M0,-1L0.225,-0.309L0.951,-0.309L0.363,0.118L0.588,0.809L0,0.382L-0.588,0.809L-0.363,0.118L-0.951,-0.309L-0.225,-0.309Z", "symbolSize": 25, "symbolStrokeWidth": 0}}}}
 ]},
{"title": "GRB 170903A", "width": 169, "height": 93, "resolve": {"axis": {"x": "independent", "y": "independent"}},
 "layer": [
  {"data": {"name": "ell"}, "mark": {"type": "line", "interpolate": "cardinal-closed", "strokeWidth": 0.7},
   "encoding": {
    "x": {"field": "t", "type": "quantitative", "scale": {"domain": [-2, 4]}, "axis": {"orient": "top", "offset": -2.5, "tickSize": 2.5, "values": [-2,-1,0,1,2,3,4], "labels": false, "title": null}},
    "y": {"field": "h", "type": "quantitative", "scale": {"domain": [-2, 3]}, "axis": {"orient": "right", "offset": -2.5, "tickSize": 2.5, "values": [-2,-1,0,1,2,3], "labels": false, "title": null}},
    "detail": {"field": "e"}, "order": {"field": "i", "type": "quantitative"},
    "stroke": {"field": "k", "type": "nominal", "scale": {"domain": ["outer","inner"], "range": ["#7a7a7a", "#e88080"]}, "legend": null},
    "strokeDash": {"field": "k", "type": "nominal", "scale": {"domain": ["outer","inner"], "range": [[2.5,1.5],[1,1.2]]}, "legend": null}}},
  {"data": {"values": [{}]}, "mark": {"type": "rule", "strokeDash": [3.5,2], "color": "#333", "strokeWidth": 0.9}, "encoding": {"x": {"datum": 0.301, "type": "quantitative", "axis": {"orient": "top", "offset": -1.3, "tickSize": 1.3, "values": [-1.699,-1.523,-1.398,-1.301,-1.222,-1.155,-1.097,-1.046,-0.699,-0.523,-0.398,-0.301,-0.222,-0.155,-0.097,-0.046,0.301,0.477,0.602,0.699,0.778,0.845,0.903,0.954,1.301,1.477,1.602,1.699,1.778,1.845,1.903,1.954,2.301,2.477,2.602,2.699,2.778,2.845,2.903,2.954,3.301,3.477,3.602,3.699,3.778,3.845,3.903,3.954], "labels": false, "title": null}}}},
  {"data": {"name": "short"}, "mark": {"type": "circle", "size": 5, "opacity": 0.85},
   "encoding": {
    "x": {"field": "t", "type": "quantitative", "scale": {"domain": [-2, 4]}, "axis": {"orient": "bottom", "offset": -2.5, "tickSize": 2.5, "values": [-2,-1,0,1,2,3,4], "labelExpr": "datum.value == -2 ? '10⁻²' : datum.value == -1 ? '10⁻¹' : datum.value == 0 ? '10⁰' : datum.value == 1 ? '10¹' : datum.value == 2 ? '10²' : datum.value == 3 ? '10³' : '10⁴'", "title": "T₉₀ (s)"}},
    "y": {"field": "h", "type": "quantitative", "scale": {"domain": [-2, 3]}, "axis": {"orient": "left", "offset": -2.5, "tickSize": 2.5, "values": [-2,-1,0,1,2,3], "labelExpr": "datum.value == -2 ? '10⁻²' : datum.value == -1 ? '10⁻¹' : datum.value == 0 ? '10⁰' : datum.value == 1 ? '10¹' : datum.value == 2 ? '10²' : '10³'", "title": "Hardness ratio"}},
    "color": {"datum": "Type I (short GRBs)", "type": "nominal", "scale": {"domain": ["Type I (short GRBs)", "Type II (long GRBs)"], "range": ["#505050", "#3f9cf5"]}, "legend": {"orient": "top-left", "title": null, "symbolType": "circle", "symbolSize": 7, "symbolStrokeWidth": 0}}}},
  {"data": {"name": "long"}, "mark": {"type": "circle", "size": 6, "opacity": 0.9},
   "encoding": {
    "x": {"field": "t", "type": "quantitative", "scale": {"domain": [-2, 4]}, "axis": {"orient": "bottom", "offset": -1.3, "tickSize": 1.3, "values": [-1.699,-1.523,-1.398,-1.301,-1.222,-1.155,-1.097,-1.046,-0.699,-0.523,-0.398,-0.301,-0.222,-0.155,-0.097,-0.046,0.301,0.477,0.602,0.699,0.778,0.845,0.903,0.954,1.301,1.477,1.602,1.699,1.778,1.845,1.903,1.954,2.301,2.477,2.602,2.699,2.778,2.845,2.903,2.954,3.301,3.477,3.602,3.699,3.778,3.845,3.903,3.954], "labels": false, "title": null}},
    "y": {"field": "h", "type": "quantitative", "scale": {"domain": [-2, 3]}, "axis": {"orient": "left", "offset": -1.3, "tickSize": 1.3, "values": [-1.699,-1.523,-1.398,-1.301,-1.222,-1.155,-1.097,-1.046,-0.699,-0.523,-0.398,-0.301,-0.222,-0.155,-0.097,-0.046,0.301,0.477,0.602,0.699,0.778,0.845,0.903,0.954,1.301,1.477,1.602,1.699,1.778,1.845,1.903,1.954,2.301,2.477,2.602,2.699,2.778,2.845,2.903,2.954], "labels": false, "title": null}},
    "color": {"datum": "Type II (long GRBs)", "type": "nominal"}}},
  {"data": {"values": [{"g": "GRB 170903A- G₁", "t": 1.14, "h": -0.21}, {"g": "GRB 170903A- G₂", "t": 0.53, "h": -0.11}]}, "mark": {"type": "point", "shape": "M0,-1L0.225,-0.309L0.951,-0.309L0.363,0.118L0.588,0.809L0,0.382L-0.588,0.809L-0.363,0.118L-0.951,-0.309L-0.225,-0.309Z", "filled": true, "size": 55, "opacity": 1},
   "encoding": {
    "x": {"field": "t", "type": "quantitative", "scale": {"domain": [-2, 4]}, "axis": null},
    "y": {"field": "h", "type": "quantitative", "scale": {"domain": [-2, 3]}, "axis": {"orient": "right", "offset": -1.3, "tickSize": 1.3, "values": [-1.699,-1.523,-1.398,-1.301,-1.222,-1.155,-1.097,-1.046,-0.699,-0.523,-0.398,-0.301,-0.222,-0.155,-0.097,-0.046,0.301,0.477,0.602,0.699,0.778,0.845,0.903,0.954,1.301,1.477,1.602,1.699,1.778,1.845,1.903,1.954,2.301,2.477,2.602,2.699,2.778,2.845,2.903,2.954], "labels": false, "title": null}},
    "fill": {"field": "g", "type": "nominal", "scale": {"range": ["#e8175d", "#ff9a1f"]}, "legend": {"orient": "top-right", "title": null, "symbolType": "M0,-1L0.225,-0.309L0.951,-0.309L0.363,0.118L0.588,0.809L0,0.382L-0.588,0.809L-0.363,0.118L-0.951,-0.309L-0.225,-0.309Z", "symbolSize": 25, "symbolStrokeWidth": 0}}}}
 ]},
{"title": "GRB 210619B", "width": 169, "height": 93, "resolve": {"axis": {"x": "independent", "y": "independent"}},
 "layer": [
  {"data": {"name": "ell"}, "mark": {"type": "line", "interpolate": "cardinal-closed", "strokeWidth": 0.7},
   "encoding": {
    "x": {"field": "t", "type": "quantitative", "scale": {"domain": [-2, 4]}, "axis": {"orient": "top", "offset": -2.5, "tickSize": 2.5, "values": [-2,-1,0,1,2,3,4], "labels": false, "title": null}},
    "y": {"field": "h", "type": "quantitative", "scale": {"domain": [-2, 3]}, "axis": {"orient": "right", "offset": -2.5, "tickSize": 2.5, "values": [-2,-1,0,1,2,3], "labels": false, "title": null}},
    "detail": {"field": "e"}, "order": {"field": "i", "type": "quantitative"},
    "stroke": {"field": "k", "type": "nominal", "scale": {"domain": ["outer","inner"], "range": ["#7a7a7a", "#e88080"]}, "legend": null},
    "strokeDash": {"field": "k", "type": "nominal", "scale": {"domain": ["outer","inner"], "range": [[2.5,1.5],[1,1.2]]}, "legend": null}}},
  {"data": {"values": [{}]}, "mark": {"type": "rule", "strokeDash": [3.5,2], "color": "#333", "strokeWidth": 0.9}, "encoding": {"x": {"datum": 0.301, "type": "quantitative", "axis": {"orient": "top", "offset": -1.3, "tickSize": 1.3, "values": [-1.699,-1.523,-1.398,-1.301,-1.222,-1.155,-1.097,-1.046,-0.699,-0.523,-0.398,-0.301,-0.222,-0.155,-0.097,-0.046,0.301,0.477,0.602,0.699,0.778,0.845,0.903,0.954,1.301,1.477,1.602,1.699,1.778,1.845,1.903,1.954,2.301,2.477,2.602,2.699,2.778,2.845,2.903,2.954,3.301,3.477,3.602,3.699,3.778,3.845,3.903,3.954], "labels": false, "title": null}}}},
  {"data": {"name": "short"}, "mark": {"type": "circle", "size": 5, "opacity": 0.85},
   "encoding": {
    "x": {"field": "t", "type": "quantitative", "scale": {"domain": [-2, 4]}, "axis": {"orient": "bottom", "offset": -2.5, "tickSize": 2.5, "values": [-2,-1,0,1,2,3,4], "labelExpr": "datum.value == -2 ? '10⁻²' : datum.value == -1 ? '10⁻¹' : datum.value == 0 ? '10⁰' : datum.value == 1 ? '10¹' : datum.value == 2 ? '10²' : datum.value == 3 ? '10³' : '10⁴'", "title": "T₉₀ (s)"}},
    "y": {"field": "h", "type": "quantitative", "scale": {"domain": [-2, 3]}, "axis": {"orient": "left", "offset": -2.5, "tickSize": 2.5, "values": [-2,-1,0,1,2,3], "labelExpr": "datum.value == -2 ? '10⁻²' : datum.value == -1 ? '10⁻¹' : datum.value == 0 ? '10⁰' : datum.value == 1 ? '10¹' : datum.value == 2 ? '10²' : '10³'", "title": "Hardness ratio"}},
    "color": {"datum": "Type I (short GRBs)", "type": "nominal", "scale": {"domain": ["Type I (short GRBs)", "Type II (long GRBs)"], "range": ["#505050", "#3f9cf5"]}, "legend": {"orient": "top-left", "title": null, "symbolType": "circle", "symbolSize": 7, "symbolStrokeWidth": 0}}}},
  {"data": {"name": "long"}, "mark": {"type": "circle", "size": 6, "opacity": 0.9},
   "encoding": {
    "x": {"field": "t", "type": "quantitative", "scale": {"domain": [-2, 4]}, "axis": {"orient": "bottom", "offset": -1.3, "tickSize": 1.3, "values": [-1.699,-1.523,-1.398,-1.301,-1.222,-1.155,-1.097,-1.046,-0.699,-0.523,-0.398,-0.301,-0.222,-0.155,-0.097,-0.046,0.301,0.477,0.602,0.699,0.778,0.845,0.903,0.954,1.301,1.477,1.602,1.699,1.778,1.845,1.903,1.954,2.301,2.477,2.602,2.699,2.778,2.845,2.903,2.954,3.301,3.477,3.602,3.699,3.778,3.845,3.903,3.954], "labels": false, "title": null}},
    "y": {"field": "h", "type": "quantitative", "scale": {"domain": [-2, 3]}, "axis": {"orient": "left", "offset": -1.3, "tickSize": 1.3, "values": [-1.699,-1.523,-1.398,-1.301,-1.222,-1.155,-1.097,-1.046,-0.699,-0.523,-0.398,-0.301,-0.222,-0.155,-0.097,-0.046,0.301,0.477,0.602,0.699,0.778,0.845,0.903,0.954,1.301,1.477,1.602,1.699,1.778,1.845,1.903,1.954,2.301,2.477,2.602,2.699,2.778,2.845,2.903,2.954], "labels": false, "title": null}},
    "color": {"datum": "Type II (long GRBs)", "type": "nominal"}}},
  {"data": {"values": [{"g": "GRB 210619B- G₁", "t": 0.92, "h": 0.02}, {"g": "GRB 210619B- G₂", "t": 1.45, "h": -0.16}]}, "mark": {"type": "point", "shape": "M0,-1L0.225,-0.309L0.951,-0.309L0.363,0.118L0.588,0.809L0,0.382L-0.588,0.809L-0.363,0.118L-0.951,-0.309L-0.225,-0.309Z", "filled": true, "size": 55, "opacity": 1},
   "encoding": {
    "x": {"field": "t", "type": "quantitative", "scale": {"domain": [-2, 4]}, "axis": null},
    "y": {"field": "h", "type": "quantitative", "scale": {"domain": [-2, 3]}, "axis": {"orient": "right", "offset": -1.3, "tickSize": 1.3, "values": [-1.699,-1.523,-1.398,-1.301,-1.222,-1.155,-1.097,-1.046,-0.699,-0.523,-0.398,-0.301,-0.222,-0.155,-0.097,-0.046,0.301,0.477,0.602,0.699,0.778,0.845,0.903,0.954,1.301,1.477,1.602,1.699,1.778,1.845,1.903,1.954,2.301,2.477,2.602,2.699,2.778,2.845,2.903,2.954], "labels": false, "title": null}},
    "fill": {"field": "g", "type": "nominal", "scale": {"range": ["#e8175d", "#ff9a1f"]}, "legend": {"orient": "top-right", "title": null, "symbolType": "M0,-1L0.225,-0.309L0.951,-0.309L0.363,0.118L0.588,0.809L0,0.382L-0.588,0.809L-0.363,0.118L-0.951,-0.309L-0.225,-0.309Z", "symbolSize": 25, "symbolStrokeWidth": 0}}}}
 ]},
{"title": "GRB 220521A", "width": 169, "height": 93, "resolve": {"axis": {"x": "independent", "y": "independent"}},
 "layer": [
  {"data": {"name": "ell"}, "mark": {"type": "line", "interpolate": "cardinal-closed", "strokeWidth": 0.7},
   "encoding": {
    "x": {"field": "t", "type": "quantitative", "scale": {"domain": [-2, 4]}, "axis": {"orient": "top", "offset": -2.5, "tickSize": 2.5, "values": [-2,-1,0,1,2,3,4], "labels": false, "title": null}},
    "y": {"field": "h", "type": "quantitative", "scale": {"domain": [-2, 3]}, "axis": {"orient": "right", "offset": -2.5, "tickSize": 2.5, "values": [-2,-1,0,1,2,3], "labels": false, "title": null}},
    "detail": {"field": "e"}, "order": {"field": "i", "type": "quantitative"},
    "stroke": {"field": "k", "type": "nominal", "scale": {"domain": ["outer","inner"], "range": ["#7a7a7a", "#e88080"]}, "legend": null},
    "strokeDash": {"field": "k", "type": "nominal", "scale": {"domain": ["outer","inner"], "range": [[2.5,1.5],[1,1.2]]}, "legend": null}}},
  {"data": {"values": [{}]}, "mark": {"type": "rule", "strokeDash": [3.5,2], "color": "#333", "strokeWidth": 0.9}, "encoding": {"x": {"datum": 0.301, "type": "quantitative", "axis": {"orient": "top", "offset": -1.3, "tickSize": 1.3, "values": [-1.699,-1.523,-1.398,-1.301,-1.222,-1.155,-1.097,-1.046,-0.699,-0.523,-0.398,-0.301,-0.222,-0.155,-0.097,-0.046,0.301,0.477,0.602,0.699,0.778,0.845,0.903,0.954,1.301,1.477,1.602,1.699,1.778,1.845,1.903,1.954,2.301,2.477,2.602,2.699,2.778,2.845,2.903,2.954,3.301,3.477,3.602,3.699,3.778,3.845,3.903,3.954], "labels": false, "title": null}}}},
  {"data": {"name": "short"}, "mark": {"type": "circle", "size": 5, "opacity": 0.85},
   "encoding": {
    "x": {"field": "t", "type": "quantitative", "scale": {"domain": [-2, 4]}, "axis": {"orient": "bottom", "offset": -2.5, "tickSize": 2.5, "values": [-2,-1,0,1,2,3,4], "labelExpr": "datum.value == -2 ? '10⁻²' : datum.value == -1 ? '10⁻¹' : datum.value == 0 ? '10⁰' : datum.value == 1 ? '10¹' : datum.value == 2 ? '10²' : datum.value == 3 ? '10³' : '10⁴'", "title": "T₉₀ (s)"}},
    "y": {"field": "h", "type": "quantitative", "scale": {"domain": [-2, 3]}, "axis": {"orient": "left", "offset": -2.5, "tickSize": 2.5, "values": [-2,-1,0,1,2,3], "labelExpr": "datum.value == -2 ? '10⁻²' : datum.value == -1 ? '10⁻¹' : datum.value == 0 ? '10⁰' : datum.value == 1 ? '10¹' : datum.value == 2 ? '10²' : '10³'", "title": "Hardness ratio"}},
    "color": {"datum": "Type I (short GRBs)", "type": "nominal", "scale": {"domain": ["Type I (short GRBs)", "Type II (long GRBs)"], "range": ["#505050", "#3f9cf5"]}, "legend": {"orient": "top-left", "title": null, "symbolType": "circle", "symbolSize": 7, "symbolStrokeWidth": 0}}}},
  {"data": {"name": "long"}, "mark": {"type": "circle", "size": 6, "opacity": 0.9},
   "encoding": {
    "x": {"field": "t", "type": "quantitative", "scale": {"domain": [-2, 4]}, "axis": {"orient": "bottom", "offset": -1.3, "tickSize": 1.3, "values": [-1.699,-1.523,-1.398,-1.301,-1.222,-1.155,-1.097,-1.046,-0.699,-0.523,-0.398,-0.301,-0.222,-0.155,-0.097,-0.046,0.301,0.477,0.602,0.699,0.778,0.845,0.903,0.954,1.301,1.477,1.602,1.699,1.778,1.845,1.903,1.954,2.301,2.477,2.602,2.699,2.778,2.845,2.903,2.954,3.301,3.477,3.602,3.699,3.778,3.845,3.903,3.954], "labels": false, "title": null}},
    "y": {"field": "h", "type": "quantitative", "scale": {"domain": [-2, 3]}, "axis": {"orient": "left", "offset": -1.3, "tickSize": 1.3, "values": [-1.699,-1.523,-1.398,-1.301,-1.222,-1.155,-1.097,-1.046,-0.699,-0.523,-0.398,-0.301,-0.222,-0.155,-0.097,-0.046,0.301,0.477,0.602,0.699,0.778,0.845,0.903,0.954,1.301,1.477,1.602,1.699,1.778,1.845,1.903,1.954,2.301,2.477,2.602,2.699,2.778,2.845,2.903,2.954], "labels": false, "title": null}},
    "color": {"datum": "Type II (long GRBs)", "type": "nominal"}}},
  {"data": {"values": [{"g": "GRB 220521A- G₁", "t": 0.50, "h": -0.27}, {"g": "GRB 220521A- G₂", "t": 0.56, "h": -0.23}]}, "mark": {"type": "point", "shape": "M0,-1L0.225,-0.309L0.951,-0.309L0.363,0.118L0.588,0.809L0,0.382L-0.588,0.809L-0.363,0.118L-0.951,-0.309L-0.225,-0.309Z", "filled": true, "size": 55, "opacity": 1},
   "encoding": {
    "x": {"field": "t", "type": "quantitative", "scale": {"domain": [-2, 4]}, "axis": null},
    "y": {"field": "h", "type": "quantitative", "scale": {"domain": [-2, 3]}, "axis": {"orient": "right", "offset": -1.3, "tickSize": 1.3, "values": [-1.699,-1.523,-1.398,-1.301,-1.222,-1.155,-1.097,-1.046,-0.699,-0.523,-0.398,-0.301,-0.222,-0.155,-0.097,-0.046,0.301,0.477,0.602,0.699,0.778,0.845,0.903,0.954,1.301,1.477,1.602,1.699,1.778,1.845,1.903,1.954,2.301,2.477,2.602,2.699,2.778,2.845,2.903,2.954], "labels": false, "title": null}},
    "fill": {"field": "g", "type": "nominal", "scale": {"range": ["#e8175d", "#ff9a1f"]}, "legend": {"orient": "top-right", "title": null, "symbolType": "M0,-1L0.225,-0.309L0.951,-0.309L0.363,0.118L0.588,0.809L0,0.382L-0.588,0.809L-0.363,0.118L-0.951,-0.309L-0.225,-0.309Z", "symbolSize": 25, "symbolStrokeWidth": 0}}}}
 ]}
]
}
